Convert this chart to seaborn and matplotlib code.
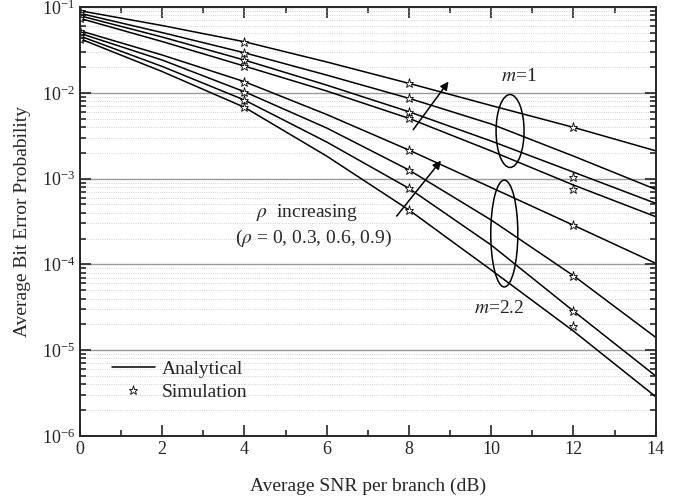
import numpy as np
import pandas as pd
import seaborn as sns
import matplotlib.pyplot as plt
from matplotlib.patches import Ellipse
from matplotlib.lines import Line2D
from matplotlib.ticker import LogLocator, MultipleLocator, NullFormatter

# SNR axis (dB)
snr = [0, 2, 4, 6, 8, 10, 12, 14]
sim_snr = [0, 4, 8, 12]

# analytical BER, m = 1 (rho = 0.9, 0.6, 0.3, 0)
m1_r09 = [9.06e-2, 6.09e-2, 3.94e-2, 2.29e-2, 1.29e-2, 7.11e-3, 3.96e-3, 2.11e-3]
m1_r06 = [8.45e-2, 5.04e-2, 2.93e-2, 1.61e-2, 8.63e-3, 4.33e-3, 1.83e-3, 7.50e-4]
m1_r03 = [7.92e-2, 4.47e-2, 2.41e-2, 1.23e-2, 6.02e-3, 2.74e-3, 1.19e-3, 5.15e-4]
m1_r00 = [7.38e-2, 3.96e-2, 2.05e-2, 1.05e-2, 5.04e-3, 2.10e-3, 8.42e-4, 3.60e-4]

# analytical BER, m = 2.2 (rho = 0.9, 0.6, 0.3, 0)
m22_r09 = [5.30e-2, 2.76e-2, 1.35e-2, 5.59e-3, 2.15e-3, 7.87e-4, 2.86e-4, 1.03e-4]
m22_r06 = [4.94e-2, 2.41e-2, 1.03e-2, 3.89e-3, 1.26e-3, 3.29e-4, 7.38e-5, 1.41e-5]
m22_r03 = [4.59e-2, 2.03e-2, 8.24e-3, 2.67e-3, 7.70e-4, 1.68e-4, 2.86e-5, 5.00e-6]
m22_r00 = [4.27e-2, 1.77e-2, 6.78e-3, 1.83e-3, 4.31e-4, 8.60e-5, 1.67e-5, 2.87e-6]

# simulation points
sim_m1_r09 = [9.06e-2, 3.94e-2, 1.29e-2, 3.96e-3]
sim_m1_r06 = [8.45e-2, 2.93e-2, 8.63e-3, np.nan]
sim_m1_r03 = [7.92e-2, 2.41e-2, 6.02e-3, 1.05e-3]
sim_m1_r00 = [7.38e-2, 2.05e-2, 5.04e-3, 7.50e-4]
sim_m22_r09 = [5.30e-2, 1.35e-2, 2.15e-3, 2.86e-4]
sim_m22_r06 = [4.94e-2, 1.03e-2, 1.26e-3, 7.40e-5]
sim_m22_r03 = [4.59e-2, 8.24e-3, 7.70e-4, 2.86e-5]
sim_m22_r00 = [4.27e-2, 6.78e-3, 4.31e-4, 1.90e-5]

ana = [m1_r09, m1_r06, m1_r03, m1_r00, m22_r09, m22_r06, m22_r03, m22_r00]
sim = [sim_m1_r09, sim_m1_r06, sim_m1_r03, sim_m1_r00,
       sim_m22_r09, sim_m22_r06, sim_m22_r03, sim_m22_r00]

df = pd.concat([pd.DataFrame({'snr': snr, 'ber': b, 'curve': i}) for i, b in enumerate(ana)])
sdf = pd.concat([pd.DataFrame({'snr': sim_snr, 'ber': b}) for b in sim]).dropna()

sns.set_style('ticks')
plt.rcParams['font.family'] = ['Liberation Serif', 'DejaVu Serif']
plt.rcParams['mathtext.fontset'] = 'stix'

fig = plt.figure(figsize=(6.76, 5.04), dpi=100)
ax = fig.add_axes([0.1183, 0.135, 0.8517, 0.851])

ax.set_yscale('log')
ax.set_xlim(0, 14)
ax.set_ylim(1e-6, 1e-1)

# grid: solid decades, dotted minor
ax.grid(True, which='major', axis='y', color='#9a9a9a', lw=1.0, ls='-')
ax.grid(True, which='minor', axis='y', color='#c4c4c4', lw=0.6, ls=':')
ax.set_axisbelow(True)

sns.lineplot(data=df, x='snr', y='ber', units='curve', estimator=None,
             color='k', lw=1.1, ax=ax, legend=False)
ax.plot(sdf['snr'], sdf['ber'], ls='none', marker='*', ms=6.5,
        mfc='white', mec='k', mew=0.6)

ax.xaxis.set_major_locator(MultipleLocator(2))
ax.xaxis.set_minor_locator(MultipleLocator(1))
ax.yaxis.set_major_locator(LogLocator(base=10, numticks=10))
ax.yaxis.set_minor_locator(LogLocator(base=10, subs=np.arange(2, 10), numticks=20))
ax.yaxis.set_minor_formatter(NullFormatter())
ax.tick_params(which='both', direction='in', top=True, right=True, width=1.2,
               labelsize=13)
ax.tick_params(which='major', length=8)
ax.tick_params(which='minor', length=4.5)
for s in ax.spines.values():
    s.set_linewidth(1.4)

ax.set_xlabel('Average SNR per branch (dB)', fontsize=14, labelpad=14)
ax.set_ylabel('Average Bit Error Probability', fontsize=14, labelpad=8)

# annotations
ax.add_patch(Ellipse((0.747, 0.711), 0.0486, 0.170, transform=ax.transAxes,
                     fill=False, ec='k', lw=1.1))
ax.add_patch(Ellipse((0.737, 0.472), 0.047, 0.249, transform=ax.transAxes,
                     fill=False, ec='k', lw=1.1))
ax.annotate('', xy=(0.643, 0.8315), xytext=(0.576, 0.709), xycoords='axes fraction',
            arrowprops=dict(arrowstyle='-|>', color='k', lw=1.1, mutation_scale=12))
ax.annotate('', xy=(0.630, 0.647), xytext=(0.547, 0.5075), xycoords='axes fraction',
            arrowprops=dict(arrowstyle='-|>', color='k', lw=1.1, mutation_scale=12))
ax.text(0.7625, 0.837, r'$m$=1', transform=ax.transAxes, ha='center', va='center', fontsize=14)
ax.text(0.728, 0.298, r'$m$=2.2', transform=ax.transAxes, ha='center', va='center', fontsize=14)
ax.text(0.395, 0.52, r'$\rho$  increasing', transform=ax.transAxes, ha='center', va='center', fontsize=14)
ax.text(0.405, 0.461, r'($\rho$ = 0, 0.3, 0.6, 0.9)', transform=ax.transAxes, ha='center', va='center', fontsize=14)

handles = [Line2D([], [], color='k', lw=1.1),
           Line2D([], [], ls='none', marker='*', ms=6.5, mfc='white', mec='k', mew=0.6)]
ax.legend(handles, ['Analytical', 'Simulation'], loc='lower left',
          bbox_to_anchor=(0.025, 0.04), frameon=False, fontsize=14,
          handlelength=2.2, handletextpad=0.35, labelspacing=0.3)

fig.savefig('out.png', dpi=100)
